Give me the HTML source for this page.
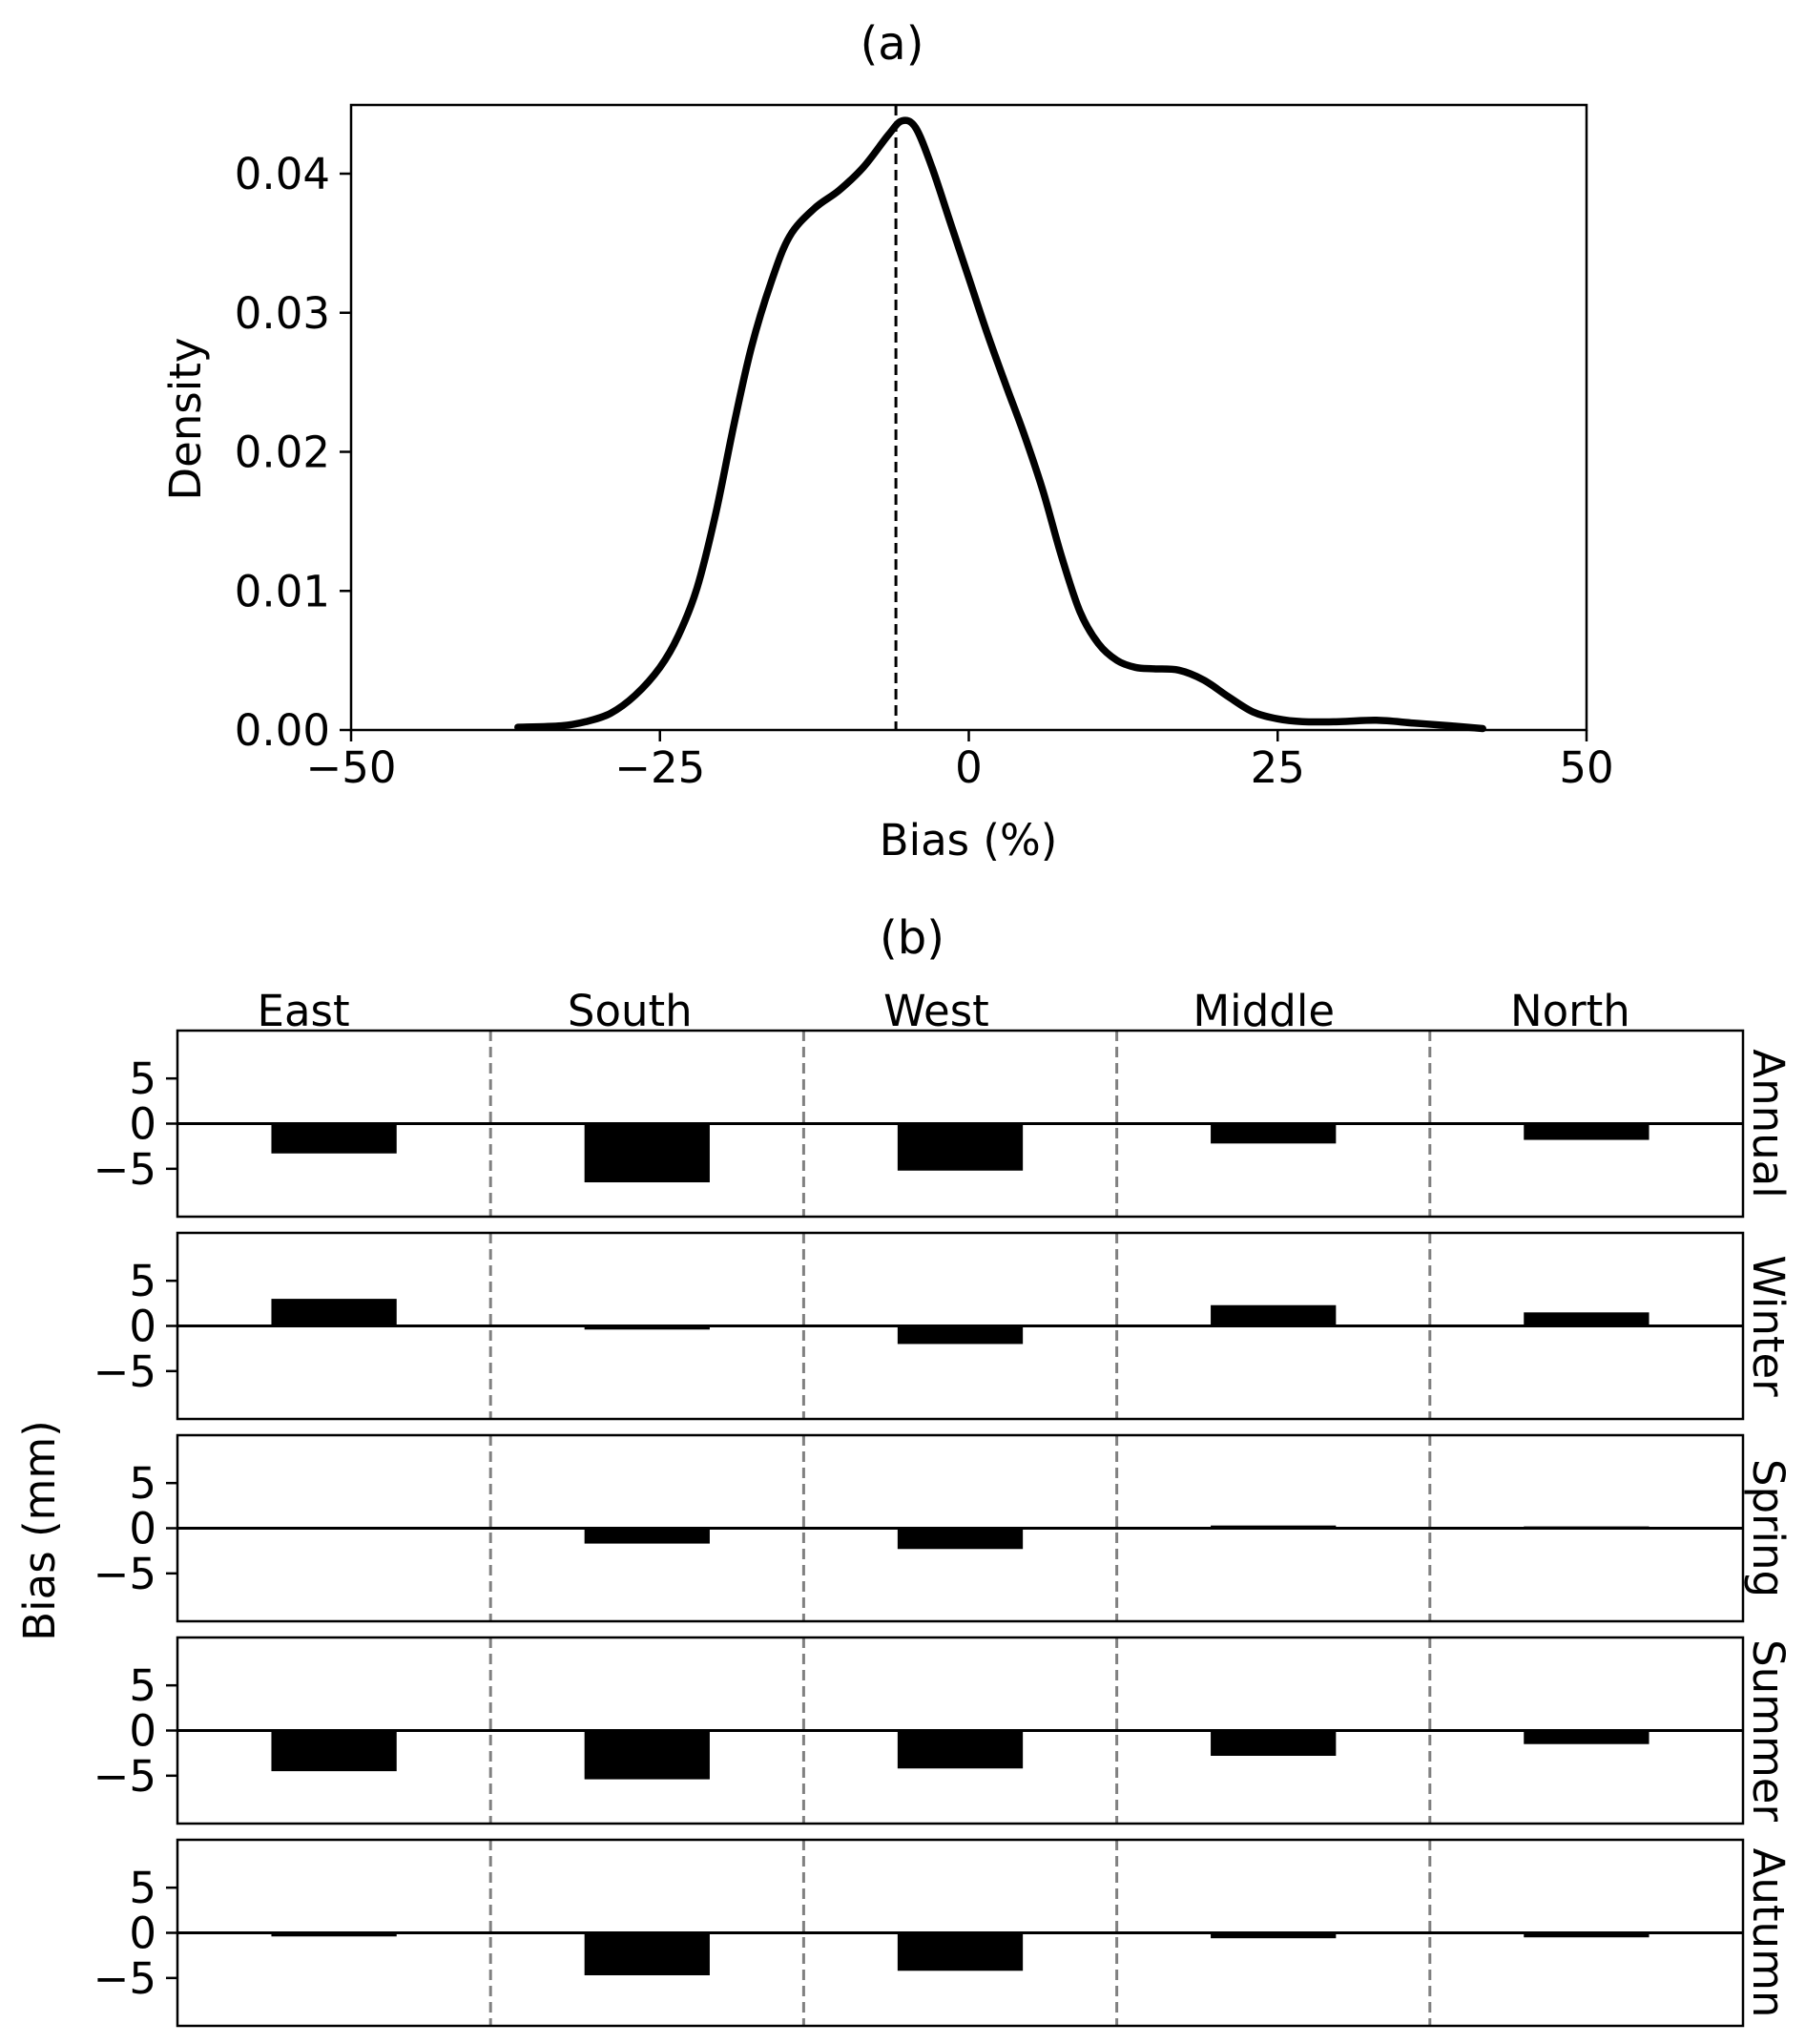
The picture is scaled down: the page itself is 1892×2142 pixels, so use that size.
<!DOCTYPE html>
<html><head><meta charset="utf-8"><style>
html,body{margin:0;padding:0;background:#fff}
svg{display:block}
text{font-family:"DejaVu Sans","Liberation Sans",sans-serif;fill:#000}
</style></head><body>
<svg id="fig" width="1892" height="2142" viewBox="0 0 1892 2142" xmlns="http://www.w3.org/2000/svg">
<g id="pa"></g>
<g id="pb"></g>
</svg>
<script>
// Panel (a) data
const kdeX = [-36.5,-33,-31,-29,-27,-25,-23.5,-22,-20.5,-19,-17.6,-16,-14.5,-12.5,-10.5,-8.5,-6.5,-5.4,-4.3,-3,-1.5,0,1.5,3,4.5,6,7.5,9,10.5,12,13.5,15,17,19,21,23,25,27,30,33,36,39,41.6];
const kdeY = [0.0002,0.0003,0.0006,0.0012,0.0025,0.0045,0.0068,0.0102,0.0155,0.022,0.0275,0.0322,0.0355,0.0375,0.0388,0.0405,0.0428,0.0438,0.0433,0.0405,0.0365,0.0325,0.0285,0.0248,0.0212,0.0172,0.0125,0.0085,0.0062,0.005,0.0045,0.0044,0.0043,0.0036,0.0024,0.0013,0.0008,0.0006,0.0006,0.0007,0.0005,0.0003,0.0001];
const meanBias = -5.9;
const xTicks = [-50,-25,0,25,50];
const xTickLabels = ["\u221250","\u221225","0","25","50"];
const yTicks = [0,0.01,0.02,0.03,0.04];
const yTickLabels = ["0.00","0.01","0.02","0.03","0.04"];
// Panel (b) data
const regions = ["East","South","West","Middle","North"];
const seasons = ["Annual","Winter","Spring","Summer","Autumn"];
const annualBias = [-3.3,-6.5,-5.2,-2.2,-1.8];
const winterBias = [3.0,-0.4,-2.0,2.3,1.5];
const springBias = [0,-1.7,-2.3,0.3,0.2];
const summerBias = [-4.5,-5.4,-4.2,-2.8,-1.5];
const autumnBias = [-0.4,-4.7,-4.2,-0.6,-0.5];
const bTicks = [5,0,-5];
const bTickLabels = ["5","0","\u22125"];

const NS="http://www.w3.org/2000/svg";
function mk(parent,tag,attrs,text){const e=document.createElementNS(NS,tag);for(const k in attrs)e.setAttribute(k,attrs[k]);if(text!==undefined)e.textContent=text;parent.appendChild(e);return e;}

// ---- Panel a ----
const pa=document.getElementById('pa');
const L=368,R=1663,T=110,B=765;
const xs=v=>L+(v+50)/100*(R-L);
const ys=v=>B-v/0.04*(B-182);
let t=mk(pa,'text',{x:935,y:62,'font-size':48,'text-anchor':'middle'},'(a)');


let pts=kdeX.map((x,i)=>[xs(x),ys(kdeY[i])]);
let d='M'+pts[0][0]+','+pts[0][1];
for(let i=0;i<pts.length-1;i++){const p0=pts[Math.max(0,i-1)],p1=pts[i],p2=pts[i+1],p3=pts[Math.min(pts.length-1,i+2)];
d+=` C${p1[0]+(p2[0]-p0[0])/6},${p1[1]+(p2[1]-p0[1])/6} ${p2[0]-(p3[0]-p1[0])/6},${p2[1]-(p3[1]-p1[1])/6} ${p2[0]},${p2[1]}`;}
let c=mk(pa,'path',{d:d,fill:'none',stroke:'#000','stroke-width':7.5,'stroke-linejoin':'round','stroke-linecap':'round'});


let ml=mk(pa,'line',{x1:xs(meanBias),x2:xs(meanBias),y1:T,y2:B,stroke:'#000','stroke-width':3,'stroke-dasharray':'11,6'});


let fr=mk(pa,'rect',{x:L,y:T,width:R-L,height:B-T,fill:'none',stroke:'#000','stroke-width':2.5});


xTicks.forEach((v,i)=>{mk(pa,'line',{x1:xs(v),x2:xs(v),y1:B,y2:B+12,stroke:'#000','stroke-width':2.5});
const tl=mk(pa,'text',{x:xs(v),y:B+55,'font-size':45,'text-anchor':'middle'},xTickLabels[i]);

});
yTicks.forEach((v,i)=>{mk(pa,'line',{x1:L-12,x2:L,y1:ys(v),y2:ys(v),stroke:'#000','stroke-width':2.5});
const tl=mk(pa,'text',{x:L-22,y:ys(v)+16,'font-size':45,'text-anchor':'end'},yTickLabels[i]);

});
t=mk(pa,'text',{x:1015,y:896,'font-size':45,'text-anchor':'middle'},'Bias (%)');


t=mk(pa,'text',{x:0,y:0,'font-size':45,'text-anchor':'middle',transform:'translate(210,439) rotate(-90)'},'Density');



// ---- Panel b ----
const pb=document.getElementById('pb');
const bL=186,bR=1827,rowTop=1080,rowStep=212,rowH=195,ylim=10.3;
const colW=(bR-bL)/5;
const cx=i=>bL+colW*(i+0.5);
const allSeries=[annualBias,winterBias,springBias,summerBias,autumnBias];
t=mk(pb,'text',{x:956,y:999,'font-size':48,'text-anchor':'middle'},'(b)');


const labOff=[-32,-18,-25,-10,-17];
regions.forEach((r,i)=>{const e=mk(pb,'text',{x:cx(i)+labOff[i],y:1075,'font-size':45,'text-anchor':'middle'},r);

});
seasons.forEach((s,k)=>{
 const top=rowTop+k*rowStep, mid=top+rowH/2;
 const yb=v=>mid-v/ylim*(rowH/2);
 const g=mk(pb,'g',{});
 
 
 for(let j=1;j<5;j++){mk(g,'line',{x1:bL+colW*j,x2:bL+colW*j,y1:top,y2:top+rowH,stroke:'#808080','stroke-width':3,'stroke-dasharray':'11,6'});}
 allSeries[k].forEach((v,i)=>{const w=colW*0.4;const y0=yb(0),y1=yb(v);
  const b=mk(g,'rect',{x:cx(i)-w/2,y:Math.min(y0,y1),width:w,height:Math.max(Math.abs(y1-y0),1.5),fill:'#000'});
  
  });
 mk(g,'line',{x1:bL,x2:bR,y1:yb(0),y2:yb(0),stroke:'#000','stroke-width':3});
 mk(g,'rect',{x:bL,y:top,width:bR-bL,height:rowH,fill:'none',stroke:'#000','stroke-width':2.5});
 bTicks.forEach((v,i)=>{mk(g,'line',{x1:bL-12,x2:bL,y1:yb(v),y2:yb(v),stroke:'#000','stroke-width':2.5});
  const tl=mk(g,'text',{x:bL-22,y:yb(v)+16,'font-size':45,'text-anchor':'end'},bTickLabels[i]);
  
  });
 const sl=mk(g,'text',{x:0,y:0,'font-size':45,'text-anchor':'middle',transform:`translate(1838,${mid}) rotate(90)`},s);
 
 
});
t=mk(pb,'text',{x:0,y:0,'font-size':45,'text-anchor':'middle',transform:'translate(57,1604) rotate(-90)'},'Bias (mm)');


</script>
</body></html>
